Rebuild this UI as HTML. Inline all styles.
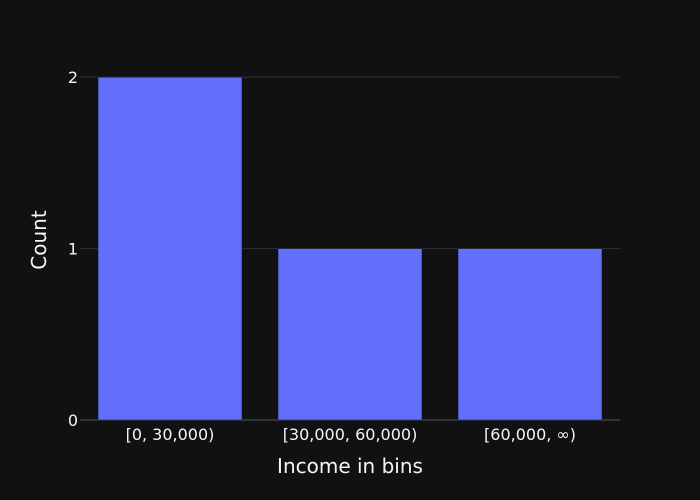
<!DOCTYPE html>
<html>
<head>
<meta charset="utf-8">
<style>
  html,body{margin:0;padding:0;background:#111111;}
  svg{display:block;font-family:"DejaVu Sans","Liberation Sans",sans-serif;}
</style>
</head>
<body>
<svg id="chart" width="700" height="500" viewBox="0 0 700 500">
  <rect x="0" y="0" width="700" height="500" fill="#111111"/>
  <g id="grid"></g>
  <g id="bars"></g>
  <g id="yticks"></g>
  <g id="xticks"></g>
  <text x="350" y="473" text-anchor="middle" font-size="20" fill="#f2f5fa">Income in bins</text>
  <text x="46" y="240" text-anchor="middle" font-size="20" fill="#f2f5fa" transform="rotate(-90 46 240)">Count</text>
</svg>
<script>
const categories = ["[0, 30,000)", "[30,000, 60,000)", "[60,000, ∞)"];
const counts = [2, 1, 1];
const yTicks = [0, 1, 2];
const yMax = 2.1;

const plotLeft = 80, plotRight = 620, plotTop = 60, plotBottom = 420;
const ns = "http://www.w3.org/2000/svg";
function yScale(v){ return plotBottom - (v / yMax) * (plotBottom - plotTop); }
const band = (plotRight - plotLeft) / categories.length;
function xCenter(i){ return plotLeft + band * (i + 0.5); }

const grid = document.getElementById("grid");
const yt = document.getElementById("yticks");
yTicks.forEach(function(t){
  const y = yScale(t);
  const l = document.createElementNS(ns, "line");
  l.setAttribute("x1", plotLeft); l.setAttribute("x2", plotRight);
  l.setAttribute("y1", y); l.setAttribute("y2", y);
  l.setAttribute("stroke", "#283442"); l.setAttribute("stroke-width", t === 0 ? 2 : 1);
  
  
  grid.appendChild(l);
  const tx = document.createElementNS(ns, "text");
  tx.setAttribute("x", plotLeft - 2); tx.setAttribute("y", y + 6);
  tx.setAttribute("text-anchor", "end"); tx.setAttribute("font-size", "16");
  tx.setAttribute("fill", "#f2f5fa");
  tx.textContent = t;
  
  
  yt.appendChild(tx);
});

const bars = document.getElementById("bars");
const xt = document.getElementById("xticks");
const bw = band * 0.8;
categories.forEach(function(c, i){
  const r = document.createElementNS(ns, "rect");
  const y = yScale(counts[i]);
  r.setAttribute("x", xCenter(i) - bw / 2); r.setAttribute("width", bw);
  r.setAttribute("y", y); r.setAttribute("height", plotBottom - y);
  r.setAttribute("fill", "#636efa"); r.setAttribute("stroke", "#111111"); r.setAttribute("stroke-width", 0.5);
  
  
  bars.appendChild(r);
  const tx = document.createElementNS(ns, "text");
  tx.setAttribute("x", xCenter(i)); tx.setAttribute("y", plotBottom + 20);
  tx.setAttribute("text-anchor", "middle"); tx.setAttribute("font-size", "16");
  tx.setAttribute("fill", "#f2f5fa");
  tx.textContent = c;
  
  
  xt.appendChild(tx);
});
</script>
</body>
</html>
